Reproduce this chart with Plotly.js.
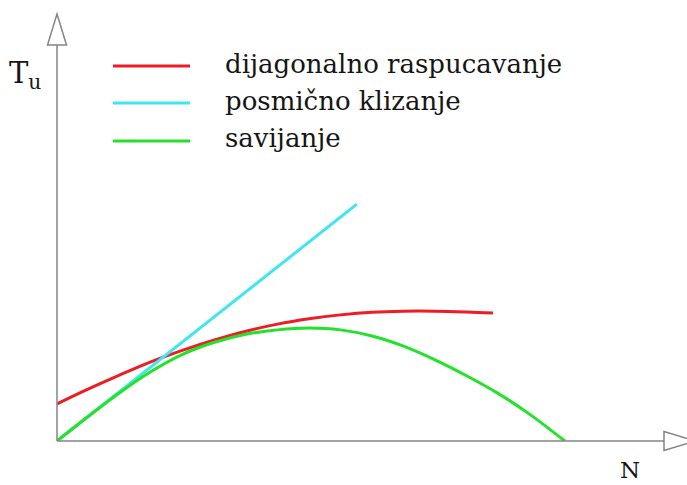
<!DOCTYPE html>
<html>
<head>
<meta charset="utf-8">
<script src="https://cdn.plot.ly/plotly-3.0.1.min.js"></script>
<style>html,body{margin:0;padding:0;background:#fff;}#chart{width:687px;height:485px;}</style>
</head>
<body>
<div id="chart"></div>
<script>
// Data (arbitrary units: N horizontal, Tu vertical)
const seriesNames = ["dijagonalno raspucavanje", "posmično klizanje", "savijanje"];
const redN = [0, 0.5, 1.0, 1.5, 2.0, 2.5, 3.0, 3.5, 4.0, 4.5, 5.0, 5.5, 6.0, 6.5, 6.92];
const redT = [0.84, 1.18, 1.50, 1.80, 2.06, 2.29, 2.49, 2.65, 2.77, 2.86, 2.92, 2.945, 2.945, 2.925, 2.90];
const cyanN = [0, 4.76];
const cyanT = [0, 5.37];
const greenN = [0, 0.5, 1.0, 1.5, 2.0, 2.5, 3.0, 3.5, 4.0, 4.5, 5.0, 5.5, 6.0, 6.5, 7.0, 7.5, 8.06];
const greenT = [0, 0.56, 1.10, 1.58, 1.97, 2.24, 2.42, 2.52, 2.56, 2.52, 2.38, 2.15, 1.84, 1.48, 1.08, 0.61, 0];
const colors = ["#ee1c24", "#3ee6f0", "#22e32a"];
const axisTitleY = "T<sub>u</sub>";
const axisTitleX = "N";

const W = 687, H = 485, L = 57, B = 44;
const px = x => (x - L) / (W - L);
const py = y => (H - B - y) / (H - B);

const traces = [
  {x: redN, y: redT, name: seriesNames[0], mode: "lines", line: {color: colors[0], width: 3, shape: "spline", smoothing: 1}, cliponaxis: false},
  {x: cyanN, y: cyanT, name: seriesNames[1], mode: "lines", line: {color: colors[1], width: 3}, cliponaxis: false},
  {x: greenN, y: greenT, name: seriesNames[2], mode: "lines", line: {color: colors[2], width: 3, shape: "spline", smoothing: 1}, cliponaxis: false}
];

const axColor = "#858585";
const shapes = [
  {type: "line", xref: "paper", yref: "paper", x0: px(57), y0: py(441), x1: px(57), y1: py(45), line: {color: axColor, width: 1.5}},
  {type: "line", xref: "paper", yref: "paper", x0: px(57), y0: py(441), x1: px(664), y1: py(441), line: {color: axColor, width: 1.5}},
  {type: "path", xref: "paper", yref: "paper",
   path: `M${px(57)},${py(14)} L${px(66.5)},${py(45)} L${px(47.5)},${py(45)} Z`,
   line: {color: axColor, width: 1.5}, fillcolor: "rgba(255,255,255,1)"},
  {type: "path", xref: "paper", yref: "paper",
   path: `M${px(664)},${py(431.5)} L${px(695)},${py(441)} L${px(664)},${py(450.5)} Z`,
   line: {color: axColor, width: 1.5}, fillcolor: "rgba(255,255,255,1)"}
];
const legendY = [66, 103, 141];
const textY = [64, 101, 138];
const annotations = [];
seriesNames.forEach((n, i) => {
  shapes.push({type: "line", xref: "paper", yref: "paper", x0: px(113), x1: px(190), y0: py(legendY[i]), y1: py(legendY[i]), line: {color: colors[i], width: 3}});
  annotations.push({xref: "paper", yref: "paper", x: px(223), y: py(textY[i]), xanchor: "left", yanchor: "middle", text: n, showarrow: false, font: {family: "DejaVu Serif", size: 26, color: "#151515"}});
});
annotations.push({xref: "paper", yref: "paper", x: px(25), y: py(75), xanchor: "center", yanchor: "middle", text: axisTitleY, showarrow: false, font: {family: "DejaVu Serif", size: 29, color: "#151515"}});
annotations.push({xref: "paper", yref: "paper", x: px(630), y: 0, yshift: -B, xanchor: "center", yanchor: "bottom", text: axisTitleX, showarrow: false, font: {family: "DejaVu Serif", size: 23, color: "#151515"}});

const layout = {
  width: W, height: H,
  margin: {l: L, r: 0, t: 0, b: B, pad: 0},
  paper_bgcolor: "#fff", plot_bgcolor: "#fff",
  showlegend: false,
  xaxis: {range: [0, 10], showgrid: false, zeroline: false, showline: false, showticklabels: false, ticks: ""},
  yaxis: {range: [0, 10], showgrid: false, zeroline: false, showline: false, showticklabels: false, ticks: ""},
  shapes: shapes,
  annotations: annotations
};
Plotly.newPlot("chart", traces, layout, {displayModeBar: false, staticPlot: true});
</script>
</body>
</html>
